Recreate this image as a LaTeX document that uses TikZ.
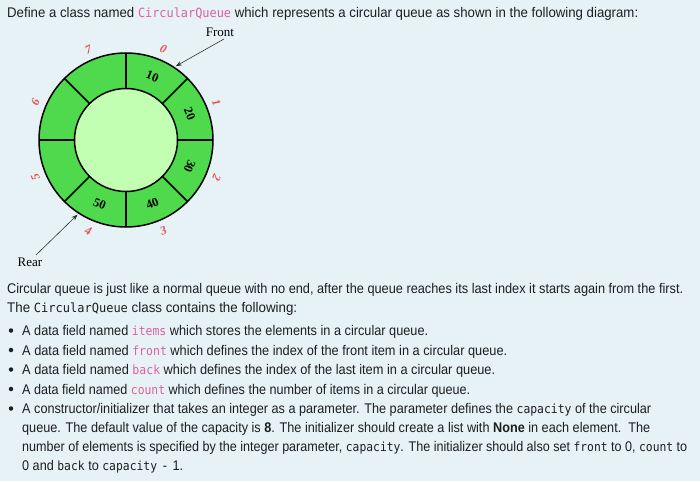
\documentclass[tikz,border=0pt]{standalone}
\usepackage{fontspec}
\usepackage{graphicx}
\setmainfont{Liberation Sans}
\setmonofont{DejaVu Sans Mono}[Scale=0.9]
\newfontfamily\diagserif{Liberation Serif}
\usetikzlibrary{arrows.meta,calc}
\definecolor{bgc}{RGB}{230,242,246}
\definecolor{ringgreen}{RGB}{78,218,76}
\definecolor{innergreen}{RGB}{194,255,178}
\definecolor{idxred}{RGB}{232,82,82}
\definecolor{pinkmono}{RGB}{222,96,160}
\definecolor{txt}{RGB}{30,30,30}
\newcommand\fitline[2]{\resizebox{#1pt}{\height}{#2}}
\newcommand\pk[1]{{\ttfamily\color{pinkmono}#1}}
\newcommand\mn[1]{{\ttfamily #1}}
\tikzset{
  line/.style={anchor=base west, inner sep=0pt, font=\fontsize{14}{16}\selectfont, text=txt},
  elem/.style={font=\diagserif\bfseries\fontsize{12.5}{13}\selectfont, inner sep=0pt},
  idx/.style={font=\diagserif\bfseries\itshape\fontsize{12}{13}\selectfont, text=idxred, inner sep=0pt},
  lbl/.style={font=\diagserif\fontsize{13}{14}\selectfont, inner sep=0pt},
  pointer/.style={draw=black!80, line width=0.6pt, -{Stealth[length=6pt,width=4.5pt]}},
  bulletdot/.style={circle, fill=txt, inner sep=0pt, minimum size=4.5pt}
}
\begin{document}
\begin{tikzpicture}[x=1pt,y=-1pt]
\useasboundingbox (0,0) rectangle (700,481);
\fill[bgc] (0,0) rectangle (700,481);

% diagram
\begin{scope}[shift={(126,140)}]
  \coordinate (C) at (0pt,0pt);
  \fill[ringgreen, draw=black, line width=1.5pt] (C) circle[radius=87pt];
  \foreach \a in {0,45,...,315}
    \draw[line width=1.5pt] (\a:51pt) -- (\a:87pt);
  \fill[innergreen, draw=black, line width=1.5pt] (C) circle[radius=51.5pt];
  % elements
  \node[elem, rotate=-22.5]  (e0) at (67.5:69pt)   {10};
  \node[elem, rotate=-67.5]  (e1) at (22.5:69pt)   {20};
  \node[elem, rotate=-112.5] (e2) at (-22.5:69pt)  {30};
  \node[elem, rotate=22.5]   (e3) at (-67.5:69pt)  {40};
  \node[elem, rotate=-22.5]  (e4) at (-112.5:69pt) {50};
  % indices
  \node[idx, rotate=-22.5]  (i0) at (67.5:98pt)   {0};
  \node[idx, rotate=-67.5]  (i1) at (22.5:98pt)   {1};
  \node[idx, rotate=-112.5] (i2) at (-22.5:98pt)  {2};
  \node[idx, rotate=22.5]   (i3) at (-67.5:98pt)  {3};
  \node[idx, rotate=-22.5]  (i4) at (-112.5:98pt) {4};
  \node[idx, rotate=112.5]  (i5) at (-157.5:98pt) {5};
  \node[idx, rotate=67.5]   (i6) at (157.5:98pt)  {6};
  \node[idx, rotate=22.5]   (i7) at (112.5:98pt)  {7};
  \coordinate (fronttip) at (56:89pt);
  \coordinate (reartip) at (-123:89pt);
\end{scope}

\node[lbl] (front) at (220,32) {Front};
\coordinate (fronttail) at (224,39);
\draw[pointer] (fronttail) -- (fronttip);
\node[lbl] (rear) at (30,262) {Rear};
\coordinate (reartail) at (36,255);
\draw[pointer] (reartail) -- (reartip);

% text
\node[line] (hdr) at (7,18) {\fitline{631}{Define a class named \pk{CircularQueue} which represents a circular queue as shown in the following diagram:}};
\node[line] (p1) at (7,293) {\fitline{676}{Circular queue is just like a normal queue with no end, after the queue reaches its last index it starts again from the first.}};
\node[line] (p2) at (7,312) {\fitline{290}{The \mn{CircularQueue} class contains the following:}};

\node[bulletdot] (d1) at (11,330.5) {};
\node[line] (b1) at (22,335) {\fitline{406}{A data field named \pk{items} which stores the elements in a circular queue.}};
\node[bulletdot] (d2) at (11,350) {};
\node[line] (b2) at (22,355) {\fitline{485}{A data field named \pk{front} which defines the index of the front item in a circular queue.}};
\node[bulletdot] (d3) at (11,369.5) {};
\node[line] (b3) at (22,374) {\fitline{473}{A data field named \pk{back} which defines the index of the last item in a circular queue.}};
\node[bulletdot] (d4) at (11,389) {};
\node[line] (b4) at (22,394) {\fitline{448}{A data field named \pk{count} which defines the number of items in a circular queue.}};
\node[bulletdot] (d5) at (11,408.5) {};
\node[line] (l1) at (22,413) {\fitline{629}{A constructor/initializer that takes an integer as a parameter. The parameter defines the \mn{capacity} of the circular}};
\node[line] (l2) at (22,432) {\fitline{628}{queue. The default value of the capacity is \textbf{8}. The initializer should create a list with \textbf{None} in each element.\ \ The}};
\node[line] (l3) at (22,451) {\fitline{665}{number of elements is specified by the integer parameter, \mn{capacity}. The initializer should also set \mn{front} to 0, \mn{count} to}};
\node[line] (l4) at (22,470) {\fitline{161}{0 and \mn{back} to \mn{capacity} \,-\, 1.}};
\end{tikzpicture}
\end{document}
